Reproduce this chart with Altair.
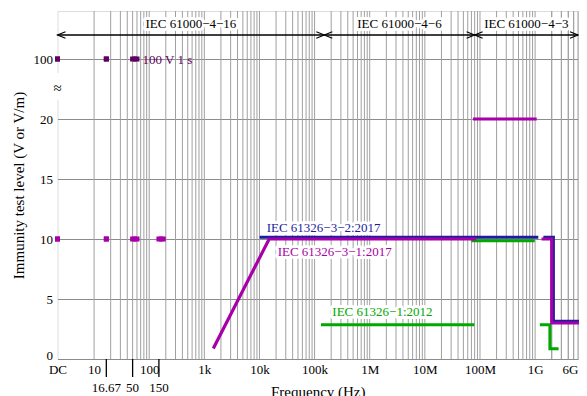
import altair as alt
import pandas as pd

FONT = "Liberation Serif"

# ---------------- data ----------------
# x axis (log). "DC" is drawn at the left end of the axis.
x_dc = 2.17
x_max = 6e9
x_tick_vals = [x_dc, 10, 100, 1e3, 1e4, 1e5, 1e6, 1e7, 1e8, 1e9, 6e9]
x_tick_labels = ["DC", "10", "100", "1k", "10k", "100k", "1M", "10M", "100M", "1G", "6G"]
extra_tick_vals = [16.67, 50, 150]
extra_tick_labels = ["16.67", "50", "150"]
grid_mult = [1, 2, 3, 4, 5, 6, 7, 8, 9]
grid_decades = [10, 100, 1e3, 1e4, 1e5, 1e6, 1e7, 1e8, 1e9]

# y axis (broken: 100 is drawn at the 25 position)
y_tick_vals = [0, 5, 10, 15, 20, 25]
y_tick_labels = ["0", "5", "10", "15", "20", "100"]
y_pos_100 = 25

# IEC 61326-3-1:2017 (magenta)
mag_f = [1.5e3, 15e3, 80e6, 80e6, 1e9, 1.4e9, 2e9, 2e9, 6e9]
mag_v = [1, 10, 10, 20, 20, 10, 10, 3, 3]
mag_seg = [0, 0, 0, 1, 1, 2, 2, 2, 2]
# IEC 61326-3-2:2017 (blue)
blue_f = [10e3, 1e9, 1.4e9, 2e9, 2e9, 6e9]
blue_v = [10, 10, 10, 10, 3, 3]
blue_seg = [0, 0, 1, 1, 1, 1]
# IEC 61326-1:2012 (green)
green_f = [150e3, 80e6, 80e6, 1e9, 1.4e9, 2e9, 2e9, 2.7e9]
green_v = [3, 3, 10, 10, 3, 3, 1, 1]
green_seg = [0, 0, 1, 1, 2, 2, 2, 2]

# low-frequency (mains) levels
lf10_f1 = [x_dc, 16.67, 50, 150]
lf10_f2 = [x_dc, 16.67, 60, 180]
lf100_f1 = [x_dc, 16.67, 50]
lf100_f2 = [x_dc, 16.67, 60]

# basic standards ranges
std_names = ["IEC 61000−4−16", "IEC 61000−4−6", "IEC 61000−4−3"]
std_f1 = [x_dc, 150e3, 80e6]
std_f2 = [150e3, 80e6, 6e9]

# series labels
lab_text = ["IEC 61326−3−2:2017", "IEC 61326−3−1:2017", "IEC 61326−1:2012"]
lab_f = [13.5e3, 21.4e3, 210e3]
lab_v = [10.6, 8.58, 3.58]

# colours
C_MAG = "#a800a8"
C_BLUE = "#1c1ca0"
C_GREEN = "#00a800"
C_PURPLE = "#600060"
C_GRID = "#a0a0a0"

# ---------------- scales / axes ----------------
def arr(v):
    return "[" + ",".join(repr(x) if isinstance(x, str) else "{:g}".format(x) for x in v) + "]"

xs = alt.Scale(type="log", domain=[x_dc, x_max], nice=False)
ys = alt.Scale(domain=[0, 29], nice=False, zero=False)

x_label_expr = "{}[indexof({}, datum.value)]".format(arr(x_tick_labels), arr(x_tick_vals))
y_label_expr = "{}[indexof({}, datum.value)]".format(arr(y_tick_labels), arr(y_tick_vals))

XT = "Frequency (Hz)"
YT = "Immunity test level (V or V/m)"

xaxis = alt.Axis(values=x_tick_vals, labelExpr=x_label_expr, grid=False, ticks=False,
                 tickSize=0, domain=False, labelPadding=4, labelBaseline="top",
                 labelAlign={"condition": {"test": "datum.value > 1e9", "value": "right"},
                             "value": "center"},
                 labelFontSize=13, labelFont=FONT, labelColor="black", labelFlush=False,
                 labelOverlap=False, titleFont=FONT, titleFontSize=15,
                 titleFontWeight="normal", titleColor="black", titleY=37,
                 titleBaseline="alphabetic")
yaxis = alt.Axis(values=y_tick_vals, labelExpr=y_label_expr, grid=True, gridColor="#8c8c8c",
                 gridWidth=1, ticks=False, tickSize=0, domain=False, labelPadding=5,
                 labelFontSize=13, labelFont=FONT, labelColor="black",
                 labelBaseline={"condition": {"test": "datum.value === 0",
                                              "value": "alphabetic"},
                                "value": "middle"},
                 labelOverlap=False, titleFont=FONT, titleFontSize=15,
                 titleFontWeight="normal", titleColor="black", titleX=-34, titleY=174,
                 titleBaseline="alphabetic")


def X(field):
    return alt.X(field, type="quantitative", scale=xs, axis=xaxis, title=XT)


def Y(field):
    return alt.Y(field, type="quantitative", scale=ys, axis=yaxis, title=YT)


def YD(val):
    return alt.YDatum(val, scale=ys, axis=yaxis, title=YT)


# ---------------- data frames ----------------
grid_f = [m * d for d in grid_decades for m in grid_mult] + [2e9, 3e9, 4e9, 5e9]
df_grid = pd.DataFrame({"f": grid_f})

df_mag = pd.DataFrame({"f": mag_f, "v": mag_v, "seg": mag_seg, "i": range(len(mag_f))})
df_blue = pd.DataFrame({"f": blue_f, "v": blue_v, "seg": blue_seg, "i": range(len(blue_f))})
df_green = pd.DataFrame({"f": green_f, "v": green_v, "seg": green_seg, "i": range(len(green_f))})

df_lf10 = pd.DataFrame({"f1": lf10_f1, "f2": lf10_f2})
df_lf100 = pd.DataFrame({"f1": lf100_f1, "f2": lf100_f2})
df_std = pd.DataFrame({"name": std_names, "f1": std_f1, "f2": std_f2})
df_lab = pd.DataFrame({"t": lab_text, "f": lab_f, "v": lab_v,
                       "c": [C_BLUE, C_MAG, C_GREEN]})
df_extra = pd.DataFrame({"f": extra_tick_vals, "t": extra_tick_labels})
df_one = pd.DataFrame({"a": [0]})

# ---------------- layers ----------------
grid = alt.Chart(df_grid).mark_rule(color=C_GRID, strokeWidth=1).encode(x=X("f"))

arrow_y = 27
arrows = alt.Chart(df_std).mark_rule(color="black", strokeWidth=1.4).encode(
    x=X("f1"), x2="f2", y=YD(arrow_y))
left_head = alt.Chart(df_std).mark_point(
    shape="M2,-0.8L0,0L2,0.8", size=64, filled=False, color="black", strokeWidth=1.1,
    opacity=1).encode(x=X("f1"), y=YD(arrow_y))
right_head = alt.Chart(df_std).mark_point(
    shape="M-2,-0.8L0,0L-2,0.8", size=64, filled=False, color="black", strokeWidth=1.1,
    opacity=1).encode(x=X("f2"), y=YD(arrow_y))
std_base = alt.Chart(df_std).transform_calculate(fm="sqrt(datum.f1*datum.f2)")
std_halo = std_base.mark_text(font=FONT, fontSize=13, baseline="alphabetic", align="center",
                              stroke="white", strokeWidth=6, strokeJoin="round",
                              color="white").encode(x=X("fm"), y=YD(27.6), text="name:N")
std_text = std_base.mark_text(font=FONT, fontSize=13, baseline="alphabetic", align="center",
                              color="black").encode(x=X("fm"), y=YD(27.6), text="name:N")

green = alt.Chart(df_green).mark_line(color=C_GREEN, strokeWidth=3, strokeCap="square",
                                      strokeJoin="miter", xOffset=-1.8, yOffset=1.8).encode(
    x=X("f"), y=Y("v"), detail="seg:N", order="i:Q")
blue = alt.Chart(df_blue).mark_line(color=C_BLUE, strokeWidth=3, strokeCap="square",
                                    strokeJoin="miter", xOffset=1.7, yOffset=-1.7).encode(
    x=X("f"), y=Y("v"), detail="seg:N", order="i:Q")
mag = alt.Chart(df_mag).mark_line(color=C_MAG, strokeWidth=3.2, strokeCap="square",
                                  strokeJoin="miter").encode(
    x=X("f"), y=Y("v"), detail="seg:N", order="i:Q")

lf10_rule = alt.Chart(df_lf10).mark_rule(color=C_MAG, strokeWidth=5).encode(
    x=X("f1"), x2="f2", y=YD(10))
lf10_sq = alt.Chart(df_lf10).transform_fold(["f1", "f2"], as_=["k", "fv"]).mark_square(
    size=25, color=C_MAG, opacity=1).encode(x=X("fv"), y=YD(10))
lf100_rule = alt.Chart(df_lf100).mark_rule(color=C_PURPLE, strokeWidth=5).encode(
    x=X("f1"), x2="f2", y=YD(y_pos_100))
lf100_sq = alt.Chart(df_lf100).transform_fold(["f1", "f2"], as_=["k", "fv"]).mark_square(
    size=25, color=C_PURPLE, opacity=1).encode(x=X("fv"), y=YD(y_pos_100))
lf100_lab = alt.Chart(df_one).mark_text(
    text="100 V 1 s", font=FONT, fontSize=13, color=C_PURPLE, align="left",
    baseline="alphabetic").encode(x=alt.XDatum(75.5, scale=xs, axis=xaxis, title=XT),
                                  y=YD(24.58))

lab_halo = alt.Chart(df_lab).mark_text(font=FONT, fontSize=13, align="left",
                                       baseline="alphabetic", stroke="white", strokeWidth=6,
                                       strokeJoin="round", color="white").encode(
    x=X("f"), y=Y("v"), text="t:N")
lab_text_l = alt.Chart(df_lab).mark_text(font=FONT, fontSize=13, align="left",
                                         baseline="alphabetic").encode(
    x=X("f"), y=Y("v"), text="t:N", color=alt.Color("c:N", scale=None))

extra_ticks = alt.Chart(df_extra).mark_rule(color="black", strokeWidth=1.3).encode(
    x=X("f"), y=alt.value(348), y2=alt.value(366))
extra_labels = alt.Chart(df_extra).mark_text(font=FONT, fontSize=13, baseline="alphabetic",
                                             align="center", color="black").encode(
    x=X("f"), y=alt.value(380.5), text="t:N")

brk_rect = alt.Chart(df_one).mark_rect(color="white", opacity=1).encode(
    x=alt.value(-5), x2=alt.value(5), y=alt.value(62), y2=alt.value(89))
brk_text = alt.Chart(df_one).mark_text(text="≈", font=FONT, fontSize=15, color="black",
                                       baseline="middle", align="center").encode(
    x=alt.value(0), y=alt.value(77))

chart = alt.layer(
    grid, arrows, left_head, right_head, std_halo, std_text,
    green, blue, mag,
    lf10_rule, lf10_sq, lf100_rule, lf100_sq, lf100_lab,
    lab_halo, lab_text_l,
    extra_ticks, extra_labels, brk_rect, brk_text,
).properties(
    width=520.5, height=348,
    padding={"left": 49.5, "top": 3, "right": 1, "bottom": 37},
    autosize=alt.AutoSizeParams(type="none"),
).configure_view(stroke="#707070", strokeWidth=1.5).configure(font=FONT)

chart.save("out.html", embed_options={"renderer": "svg", "actions": False})
